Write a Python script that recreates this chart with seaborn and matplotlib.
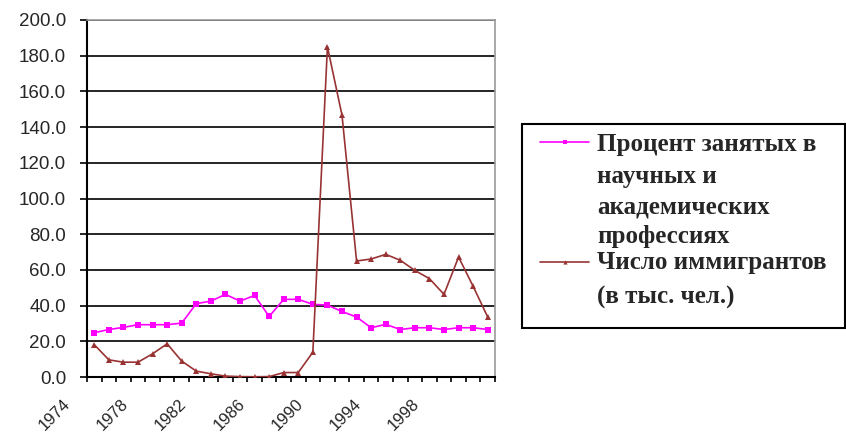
import numpy as np
import pandas as pd
import matplotlib
matplotlib.use("Agg")
import matplotlib.pyplot as plt
import seaborn as sns
from matplotlib.transforms import ScaledTranslation
from matplotlib.lines import Line2D
from matplotlib.patches import Rectangle

years = list(range(1974, 2002))
pct_sci = [24.8, 26.6, 27.8, 29.3, 29.3, 29.3, 30.2, 41.1, 42.5, 46.3,
           42.5, 45.7, 33.9, 43.5, 43.5, 40.7, 40.3, 36.7, 33.6, 27.6,
           29.5, 26.6, 27.6, 27.6, 26.6, 27.6, 27.6, 26.6]
immigrants = [18.1, 9.6, 8.3, 8.3, 13.0, 18.6, 8.9, 3.3, 1.8, 0.5,
              0.2, 0.1, 0.2, 2.5, 2.5, 13.9, 185.0, 146.7, 65.0,
              66.1, 68.7, 65.4, 59.7, 55.1, 46.3, 67.2, 50.8, 33.6]
series_names = ["Процент занятых в научных и академических профессиях",
                "Число иммигрантов (в тыс. чел.)"]
legend_lines = [["Процент занятых в", "научных и", "академических", "профессиях"],
                ["Число иммигрантов", "(в тыс. чел.)"]]
x_tick_years = [1974, 1978, 1982, 1986, 1990, 1994, 1998]
y_ticks = [0, 20, 40, 60, 80, 100, 120, 140, 160, 180, 200]

colors = {series_names[0]: "#FF00FF", series_names[1]: "#993333"}
markers = {series_names[0]: "s", series_names[1]: "^"}

df = pd.DataFrame({
    "year": years * 2,
    "value": pct_sci + immigrants,
    "series": [series_names[0]] * len(years) + [series_names[1]] * len(years),
})

sns.set_style("white")
plt.rcParams["font.family"] = ["Liberation Sans", "DejaVu Sans"]

W, H = 846, 438
fig = plt.figure(figsize=(W / 100, H / 100), dpi=100)
ax = fig.add_axes([87 / W, 1 - 377 / H, (495 - 87) / W, (377 - 20) / H])

sns.lineplot(data=df, x="year", y="value", hue="series", style="series",
             palette=colors, markers=markers, dashes=False, markersize=4,
             markeredgewidth=0, linewidth=1.2, legend=False, ax=ax, zorder=3)

ax.set_xlim(1973.5, 2001.5)
ax.set_ylim(0, 200)
ax.set_xlabel("")
ax.set_ylabel("")

ax.set_yticks(y_ticks)
ax.set_yticklabels([f"{v:.1f}" for v in y_ticks])
ax.yaxis.grid(True, color="black", linewidth=1.2)
ax.xaxis.grid(False)
ax.set_axisbelow(True)

ax.set_xticks(x_tick_years)
ax.set_xticklabels([str(y) for y in x_tick_years], rotation=45,
                   ha="right", va="top", rotation_mode="anchor")
ax.set_xticks(np.arange(1973.5, 2002, 1), minor=True)
ax.tick_params(axis="x", which="major", length=0, pad=14, labelsize=12)
ax.tick_params(axis="x", which="minor", length=3.6, width=1.2, color="black",
               direction="out", bottom=True)
ax.tick_params(axis="y", which="major", length=5, width=1.2, color="black",
               direction="out", left=True, pad=10, labelsize=13.5)
for lab in ax.get_xticklabels():
    lab.set_transform(lab.get_transform() +
                      ScaledTranslation(-32 / 100, 0, fig.dpi_scale_trans))

for side in ["left", "bottom"]:
    ax.spines[side].set_color("black")
    ax.spines[side].set_linewidth(1.5)
for side in ["top", "right"]:
    ax.spines[side].set_color("#999999")
    ax.spines[side].set_linewidth(1.2)

# Legend box (manual, to align handles with the first line of each label)
fig.patches.append(Rectangle((522 / W, 1 - 328 / H), (845 - 522) / W, (328 - 124) / H,
                             transform=fig.transFigure, fill=False,
                             edgecolor="black", linewidth=1.5))
handle_y = [142, 262]
line_ys = [[144, 177, 207, 236], [262, 297]]
for i, name in enumerate(series_names):
    fig.lines.append(Line2D([540 / W, 589 / W], [1 - handle_y[i] / H] * 2,
                            transform=fig.transFigure, color=colors[name],
                            linewidth=1.2))
    fig.lines.append(Line2D([564.5 / W], [1 - handle_y[i] / H],
                            transform=fig.transFigure, color=colors[name],
                            marker=markers[name], markersize=3, markeredgewidth=0))
    for txt, yy in zip(legend_lines[i], line_ys[i]):
        fig.text(597 / W, 1 - yy / H, txt, ha="left", va="center",
                 fontsize=18, fontweight="bold", family="Liberation Serif")

fig.savefig("out.png", dpi=100)
